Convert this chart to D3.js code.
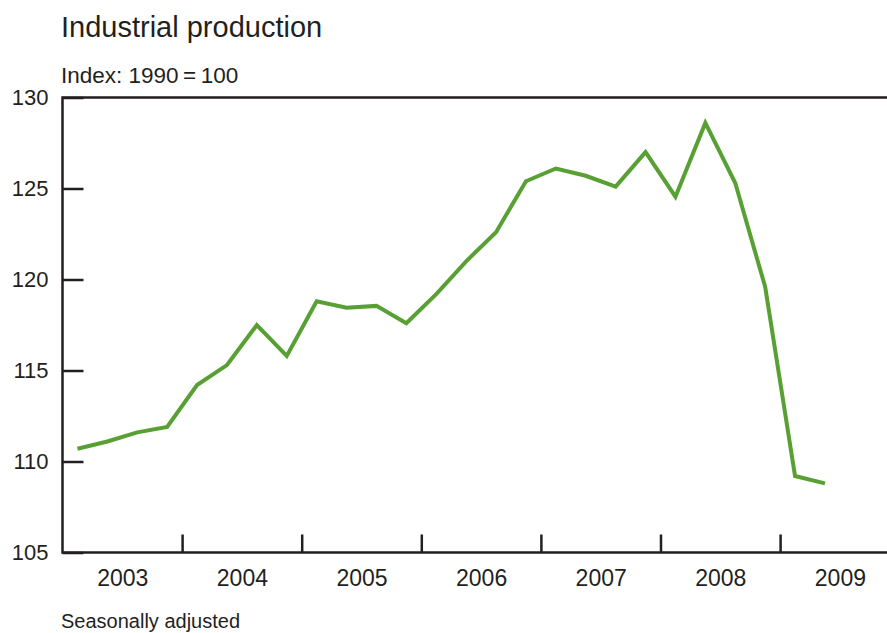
<!DOCTYPE html>
<html>
<head>
<meta charset="utf-8">
<script src="https://cdn.jsdelivr.net/npm/d3@7"></script>
<style>
  body { margin: 0; background: #fff; }
  text { font-family: "Liberation Sans", Arial, sans-serif; fill: #231f20; }
</style>
</head>
<body>
<div class="chart"></div>
<script>
// quarterly index values, 2003 Q1 .. 2009 Q2
let years = [2003, 2004, 2005, 2006, 2007, 2008, 2009];
let quarters = [
  "2003 Q1", "2003 Q2", "2003 Q3", "2003 Q4",
  "2004 Q1", "2004 Q2", "2004 Q3", "2004 Q4",
  "2005 Q1", "2005 Q2", "2005 Q3", "2005 Q4",
  "2006 Q1", "2006 Q2", "2006 Q3", "2006 Q4",
  "2007 Q1", "2007 Q2", "2007 Q3", "2007 Q4",
  "2008 Q1", "2008 Q2", "2008 Q3", "2008 Q4",
  "2009 Q1", "2009 Q2"
];
let values = [
  110.7, 111.1, 111.6, 111.9,
  114.2, 115.3, 117.5, 115.8,
  118.8, 118.45, 118.55, 117.6,
  119.2, 121.0, 122.6, 125.4,
  126.1, 125.7, 125.1, 127.0,
  124.55, 128.6, 125.3, 119.6,
  109.2, 108.8
];
let yTicks = [105, 110, 115, 120, 125, 130];

let svgWidth = 887;
let svgHeight = 633;

let plot = { left: 62.5, right: 887, top: 97.5, bottom: 552.5 };

let svg = d3.select(".chart")
  .append("svg")
  .attr("width", svgWidth)
  .attr("height", svgHeight);

// decimal year of a quarter's midpoint
function quarterPos(label) {
  let parts = label.split(" Q");
  return +parts[0] + (+parts[1] - 0.5) / 4;
}

let data = quarters.map((q, i) => ({ x: quarterPos(q), value: values[i] }));

let xScale = d3.scaleLinear()
  .domain([2003, 2010])
  .range([plot.left, plot.left + 7 * 119.6]);

let yScale = d3.scaleLinear()
  .domain([105, 130])
  .range([plot.bottom, plot.top]);

// titles
svg.append("text")
  .attr("x", 61)
  .attr("y", 37)
  .style("font-size", "29px")
  .text("Industrial production");

svg.append("text")
  .attr("x", 61)
  .attr("y", 83)
  .style("font-size", "22.5px")
  .text("Index: 1990\u2009=\u2009100");

svg.append("text")
  .attr("x", 61)
  .attr("y", 628)
  .style("font-size", "20px")
  .text("Seasonally adjusted");

// y axis (ticks point inward)
let leftAxis = d3.axisLeft(yScale)
  .tickValues(yTicks)
  .tickSize(-21)
  .tickPadding(14);

let gy = svg.append("g")
  .attr("transform", `translate(${plot.left}, 0)`)
  .call(leftAxis);
gy.select(".domain").remove();
gy.selectAll(".tick line").attr("stroke", "#231f20").attr("stroke-width", 2.5);
gy.selectAll(".tick text")
  .style("font-size", "22px")
  .attr("fill", "#231f20")
  .attr("font-family", null);

// x axis: year boundary ticks pointing up
let boundaryAxis = d3.axisBottom(xScale)
  .tickValues(years.slice(1))
  .tickSize(-18)
  .tickFormat("");

let gx = svg.append("g")
  .attr("transform", `translate(0, ${plot.bottom})`)
  .call(boundaryAxis);
gx.select(".domain").remove();
gx.selectAll(".tick line").attr("stroke", "#231f20").attr("stroke-width", 2.5);

// x axis: year labels centred in each year
let labelAxis = d3.axisBottom(xScale)
  .tickValues(years.map(y => y + 0.5))
  .tickSize(0)
  .tickPadding(17)
  .tickFormat(d => Math.floor(d));

let gl = svg.append("g")
  .attr("transform", `translate(0, ${plot.bottom})`)
  .call(labelAxis);
gl.select(".domain").remove();
gl.selectAll(".tick text")
  .style("font-size", "23px")
  .attr("fill", "#231f20")
  .attr("font-family", null);

// frame: left, top, bottom
svg.append("path")
  .attr("d", `M${plot.right},${plot.top}H${plot.left}V${plot.bottom}H${plot.right}`)
  .attr("fill", "none")
  .attr("stroke", "#231f20")
  .attr("stroke-width", 2.5);

// the series
let line = d3.line()
  .x(d => xScale(d.x))
  .y(d => yScale(d.value));

svg.append("path")
  .datum(data)
  .attr("d", line)
  .attr("fill", "none")
  .attr("stroke", "#58a033")
  .attr("stroke-width", 4)
  .attr("stroke-linejoin", "miter");
</script>
</body>
</html>
